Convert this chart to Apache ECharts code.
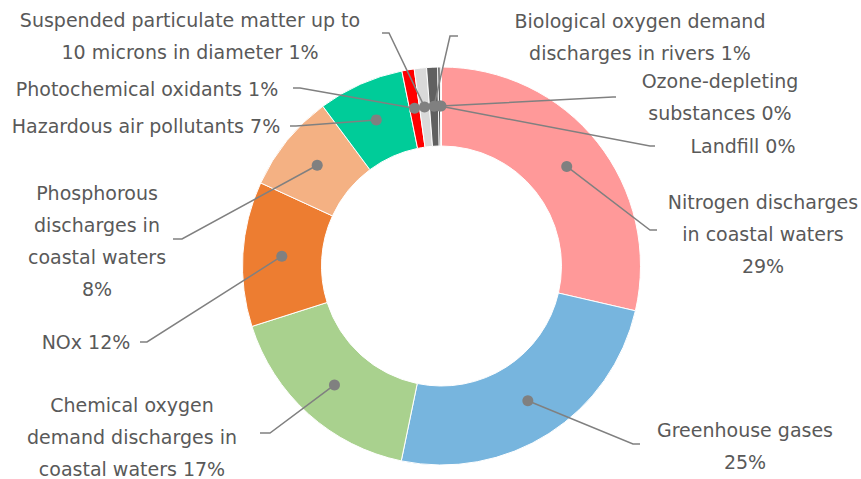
<!DOCTYPE html>
<html>
<head>
<meta charset="utf-8">
<script src="https://cdn.jsdelivr.net/npm/echarts@6/dist/echarts.min.js"></script>
<style>
html,body{margin:0;padding:0;background:#fff;}
#chart{width:861px;height:479px;}
</style>
</head>
<body>
<div id="chart"></div>
<script>
// ---- data ----
const categories = [
  'Nitrogen discharges in coastal waters',
  'Greenhouse gases',
  'Chemical oxygen demand discharges in coastal waters',
  'NOx',
  'Phosphorous discharges in coastal waters',
  'Hazardous air pollutants',
  'Photochemical oxidants',
  'Suspended particulate matter up to 10 microns in diameter',
  'Biological oxygen demand discharges in rivers',
  'Landfill',
  'Ozone-depleting substances'
];
const values = [28.7, 24.7, 16.9, 11.8, 8.0, 7.0, 1.0, 1.0, 0.9, 0.2, 0.1];
const labelTexts = [
  'Nitrogen discharges\nin coastal waters\n{p}',
  'Greenhouse gases\n{p}',
  'Chemical oxygen\ndemand discharges in\ncoastal waters {p}',
  'NOx {p}',
  'Phosphorous\ndischarges in\ncoastal waters\n{p}',
  'Hazardous air pollutants {p}',
  'Photochemical oxidants {p}',
  'Suspended particulate matter up to\n10 microns in diameter {p}',
  'Biological oxygen demand\ndischarges in rivers {p}',
  'Landfill {p}',
  'Ozone-depleting\nsubstances {p}'
];

// ---- styles / layout ----
const colors = ['#FF9999', '#77B5DE', '#A9D18E', '#ED7D31', '#F4B183', '#00CC99',
                '#FF0000', '#D9D9D9', '#606060', '#404040', '#7F7F7F'];
// [textCenterX, textCenterY, bendX, bendY, endX, endY]
const labelLayout = [
  [763, 234, 650, 230, 657, 230],
  [745, 446, 633, 444, 640, 444],
  [132, 437, 270, 433, 260, 433],
  [86, 342, 147, 342, 140, 342],
  [97, 241, 182, 239, 173, 239],
  [146, 126, 296, 126, 290, 126],
  [147, 89, 300, 88, 293, 88],
  [190, 36, 389, 33, 382, 33],
  [640, 37, 450, 36, 458, 36],
  [743, 146, 650, 146, 655, 146],
  [720, 97, 613, 97, 616, 97]
];
const CX = 441.5, CY = 266, R_OUT = 199, R_IN = 120, R_DOT = 160;

const total = values.reduce((a, b) => a + b, 0);
const pct = v => Math.round(v / total * 100) + '%';
let cum = 0;
const dotData = values.map((v, i) => {
  const mid = cum + v / 2;
  cum += v;
  return [R_DOT, mid, i];
});

const chart = echarts.init(document.getElementById('chart'), null, {renderer: 'svg'});
chart.setOption({
  animation: false,
  backgroundColor: '#fff',
  polar: {center: [CX, CY], radius: R_OUT},
  angleAxis: {type: 'value', min: 0, max: total, startAngle: 90, clockwise: true, show: false},
  radiusAxis: {type: 'value', min: 0, max: R_OUT, show: false},
  series: [
    {
      type: 'pie',
      center: [CX, CY],
      radius: [R_IN, R_OUT],
      startAngle: 90,
      clockwise: true,
      avoidLabelOverlap: false,
      label: {show: false},
      labelLine: {show: false},
      itemStyle: {borderColor: '#fff', borderWidth: 1},
      emphasis: {disabled: true},
      data: categories.map((c, i) => ({name: c, value: values[i], itemStyle: {color: colors[i]}}))
    },
    {
      type: 'custom',
      coordinateSystem: 'polar',
      z: 10,
      silent: true,
      data: dotData,
      renderItem: function (params, api) {
        const i = api.value(2);
        const p = api.coord([api.value(0), api.value(1)]);
        const L = labelLayout[i];
        return {
          type: 'group',
          children: [
            {
              type: 'polyline',
              shape: {points: [p, [L[2], L[3]], [L[4], L[5]]]},
              style: {stroke: '#808080', lineWidth: 1.5, fill: null}
            },
            {
              type: 'circle',
              shape: {cx: p[0], cy: p[1], r: 5.5},
              style: {fill: '#808080'}
            },
            {
              type: 'text',
              style: {
                text: labelTexts[i].replace('{p}', pct(values[i])),
                x: L[0], y: L[1],
                align: 'center', verticalAlign: 'middle',
                fontFamily: 'DejaVu Sans', fontSize: 19, lineHeight: 32,
                fill: '#595959'
              }
            }
          ]
        };
      }
    }
  ]
});
</script>
</body>
</html>
